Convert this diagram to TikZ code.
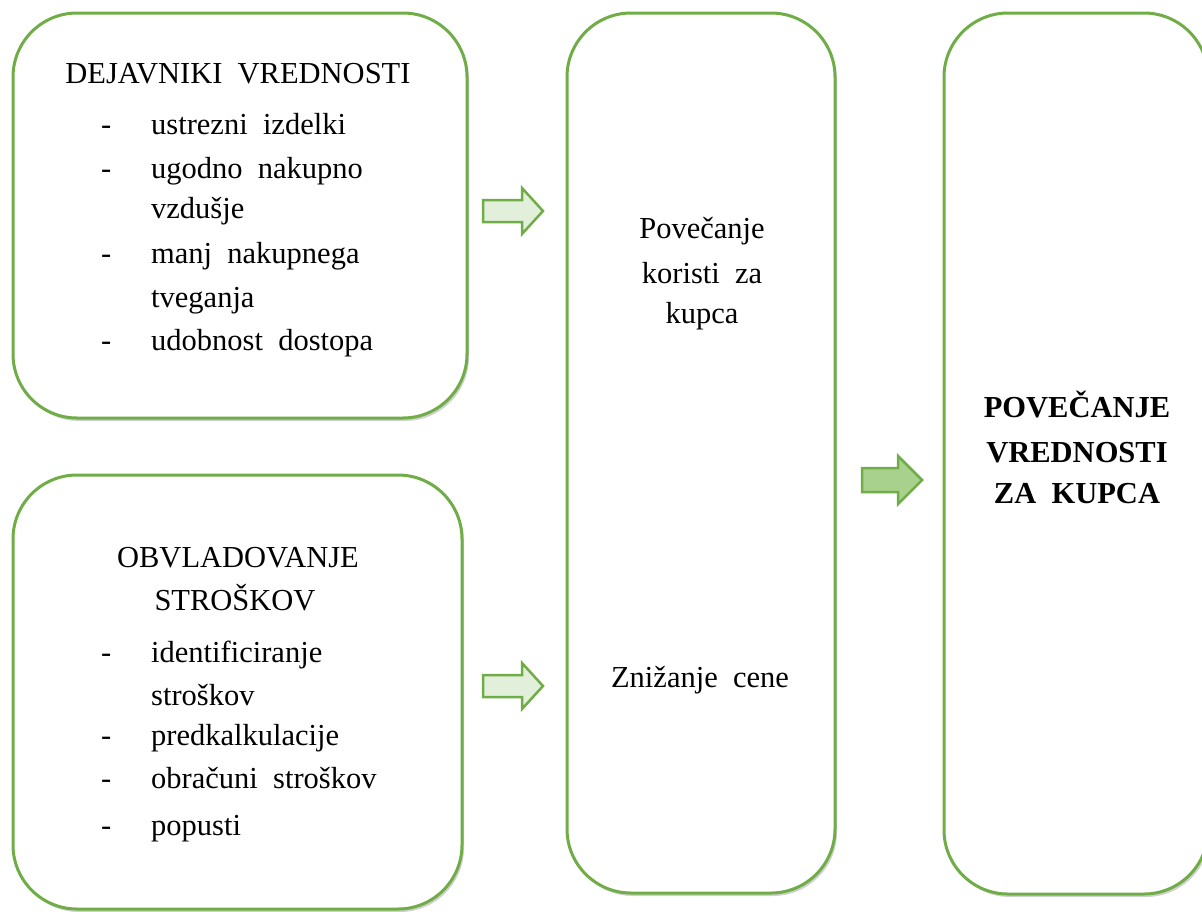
\documentclass[tikz,border=0pt]{standalone}
\usepackage{fontspec}
\setmainfont{Liberation Serif}
\usetikzlibrary{shadows}
\definecolor{framegreen}{HTML}{70AD47}
\definecolor{lightgreen}{HTML}{E2EFDA}
\definecolor{midgreen}{HTML}{A9D18E}
\begin{document}
\begin{tikzpicture}[x=1pt,y=-1pt,
  box/.style={draw=framegreen, line width=3pt, fill=white, rounded corners=64pt,
    drop shadow={shadow xshift=2pt, shadow yshift=-3pt, opacity=0.3, fill=black!60}},
  txt/.style={inner sep=0pt, font=\fontsize{30.5}{43}\selectfont},
  bold/.style={txt, font=\fontsize{30.5}{43}\selectfont\bfseries},
  blockarrow/.style={draw=framegreen, line width=2.5pt, line join=miter}]
\useasboundingbox (0,0) rectangle (1202,911);

% frames
\node[box, minimum width=454pt, minimum height=405pt] (b1) at (240,215.5) {};
\node[box, minimum width=449pt, minimum height=434pt] (b2) at (237.5,692) {};
\node[box, minimum width=268pt, minimum height=880pt] (b3) at (701,453) {};
\node[box, minimum width=264pt, minimum height=881pt] (b4) at (1076,453.5) {};

% block arrows between the columns
\draw[blockarrow, fill=lightgreen] (483,200) -- (522,200) -- (522,188) -- (543,211)
  -- (522,234) -- (522,222) -- (483,222) -- cycle;
\draw[blockarrow, fill=lightgreen] (483,675) -- (522,675) -- (522,663) -- (543,686)
  -- (522,709) -- (522,697) -- (483,697) -- cycle;
\draw[blockarrow, fill=midgreen] (862,468) -- (898,468) -- (898,456) -- (922,480)
  -- (898,504) -- (898,492) -- (862,492) -- cycle;

% value factors
\node[txt, anchor=base] (t1) at (238,83) {DEJAVNIKI\ \ VREDNOSTI};
\foreach \y/\name in {134/d1,178/d2,263/d3,350/d4}
  \node[txt, anchor=base west] (\name) at (101,\y) {-};
\node[txt, anchor=base west] (i1) at (151,134) {ustrezni\ \ izdelki};
\node[txt, anchor=base west] (i2) at (151,178) {ugodno\ \ nakupno};
\node[txt, anchor=base west] (i2b) at (151,218) {vzdušje};
\node[txt, anchor=base west] (i3) at (151,263) {manj\ \ nakupnega};
\node[txt, anchor=base west] (i3b) at (151,307) {tveganja};
\node[txt, anchor=base west] (i4) at (151,350) {udobnost\ \ dostopa};

% cost management
\node[txt, anchor=base] (t2) at (238,567) {OBVLADOVANJE};
\node[txt, anchor=base] (t2b) at (235,610) {STROŠKOV};
\foreach \y/\name in {662/e1,745/e2,788/e3,835/e4}
  \node[txt, anchor=base west] (\name) at (101,\y) {-};
\node[txt, anchor=base west] (j1) at (151,662) {identificiranje};
\node[txt, anchor=base west] (j1b) at (151,705) {stroškov};
\node[txt, anchor=base west] (j2) at (151,745) {predkalkulacije};
\node[txt, anchor=base west] (j3) at (151,788) {obračuni\ \ stroškov};
\node[txt, anchor=base west] (j4) at (151,835) {popusti};

% middle column
\node[txt, anchor=base] (m1) at (702,238) {Povečanje};
\node[txt, anchor=base] (m2) at (702,283) {koristi\ \ za};
\node[txt, anchor=base] (m3) at (702,323) {kupca};
\node[txt, anchor=base] (m4) at (700,687) {Znižanje\ \ cene};

% result column
\node[bold, anchor=base] (r1) at (1077,417) {POVEČANJE};
\node[bold, anchor=base] (r2) at (1077,462) {VREDNOSTI};
\node[bold, anchor=base] (r3) at (1077,503) {ZA\ \ KUPCA};
\end{tikzpicture}
\end{document}
